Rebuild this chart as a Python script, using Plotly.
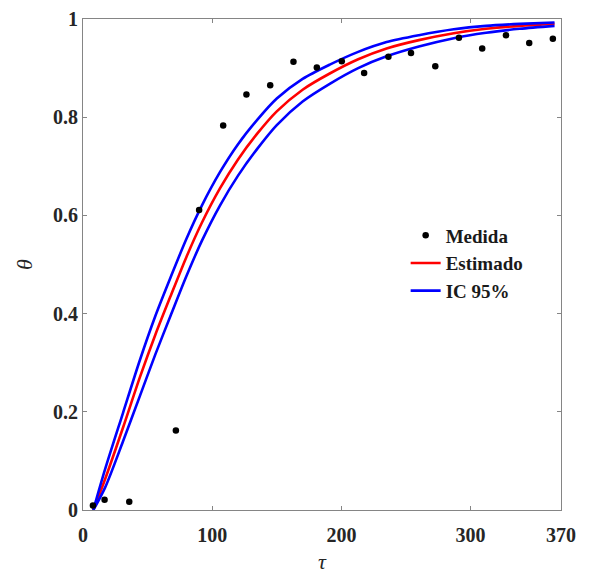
import plotly.graph_objects as go

# Measured points
tau_medida = [7.7, 16.7, 35.8, 71.9, 89.9, 108.5, 126.5, 144.9, 162.9, 181.0,
              200.3, 217.6, 236.4, 253.9, 272.7, 291.0, 309.0, 327.4, 345.4, 363.7]
theta_medida = [0.009, 0.021, 0.017, 0.162, 0.611, 0.783, 0.846, 0.865, 0.913, 0.901,
                0.914, 0.890, 0.923, 0.931, 0.904, 0.962, 0.940, 0.967, 0.951, 0.960]

# Curves
tau_curve = [8, 17, 31, 44, 56, 68, 80, 92, 106, 120, 135, 150, 170, 191, 213,
             235, 260, 287, 312, 338, 365]
theta_est = [0.0, 0.062, 0.168, 0.270, 0.357, 0.437, 0.515, 0.585, 0.655, 0.714,
             0.767, 0.812, 0.856, 0.889, 0.918, 0.940, 0.957, 0.971, 0.980, 0.986, 0.990]
theta_sup = [0.0, 0.082, 0.198, 0.305, 0.395, 0.475, 0.552, 0.620, 0.688, 0.745,
             0.795, 0.838, 0.878, 0.907, 0.933, 0.953, 0.967, 0.979, 0.986, 0.990, 0.993]
theta_inf = [0.0, 0.045, 0.140, 0.232, 0.317, 0.397, 0.476, 0.548, 0.620, 0.681,
             0.736, 0.784, 0.832, 0.868, 0.900, 0.924, 0.944, 0.961, 0.972, 0.980, 0.986]

x_ticks = [0, 100, 200, 300, 370]
y_ticks = [0, 0.2, 0.4, 0.6, 0.8, 1]
y_ticklabels = ["0", "0.2", "0.4", "0.6", "0.8", "1"]

fig = go.Figure()
fig.add_trace(go.Scatter(x=tau_curve, y=theta_est, mode="lines", name="Estimado",
                         line=dict(color="#ff0000", width=2.6, shape="spline", smoothing=0.8),
                         legendrank=2))
fig.add_trace(go.Scatter(x=tau_curve, y=theta_sup, mode="lines", name="IC 95%",
                         line=dict(color="#0000ff", width=2.6, shape="spline", smoothing=0.8),
                         legendgroup="ic", legendrank=3))
fig.add_trace(go.Scatter(x=tau_curve, y=theta_inf, mode="lines", name="IC 95%",
                         line=dict(color="#0000ff", width=2.6, shape="spline", smoothing=0.8),
                         legendgroup="ic", showlegend=False))
fig.add_trace(go.Scatter(x=tau_medida, y=theta_medida, mode="markers", name="Medida",
                         marker=dict(color="black", size=6.5), legendrank=1))

axis_common = dict(
    showline=True, linecolor="#858585", linewidth=1.2, mirror="ticks",
    ticks="inside", ticklen=4, tickcolor="#858585", tickwidth=1,
    showgrid=False, zeroline=False, automargin=False,
    tickfont=dict(family="Liberation Serif", size=20, color="#262626", weight="bold"),
)

fig.update_layout(
    width=589, height=575,
    margin=dict(l=83, r=28, t=19, b=65),
    plot_bgcolor="white", paper_bgcolor="white",
    showlegend=True,
    legend=dict(x=0.675, y=0.598, xanchor="left", yanchor="top",
                bgcolor="rgba(0,0,0,0)", borderwidth=0,
                font=dict(family="Liberation Serif", size=19, color="#1a1a1a", weight="bold"),
                tracegroupgap=0),
    xaxis=dict(range=[0, 370], tickvals=x_ticks, ticktext=[str(v) for v in x_ticks],
               ticklabelstandoff=7,
               title=dict(text="<i>τ</i>", font=dict(family="Liberation Serif", size=22, color="#262626"),
                          standoff=8),
               **axis_common),
    yaxis=dict(range=[0, 1], tickvals=y_ticks, ticktext=y_ticklabels,
               title=dict(text="<i>θ</i>", font=dict(family="Liberation Serif", size=22, color="#262626"),
                          standoff=14),
               **axis_common),
)

fig.write_html("out.html")
